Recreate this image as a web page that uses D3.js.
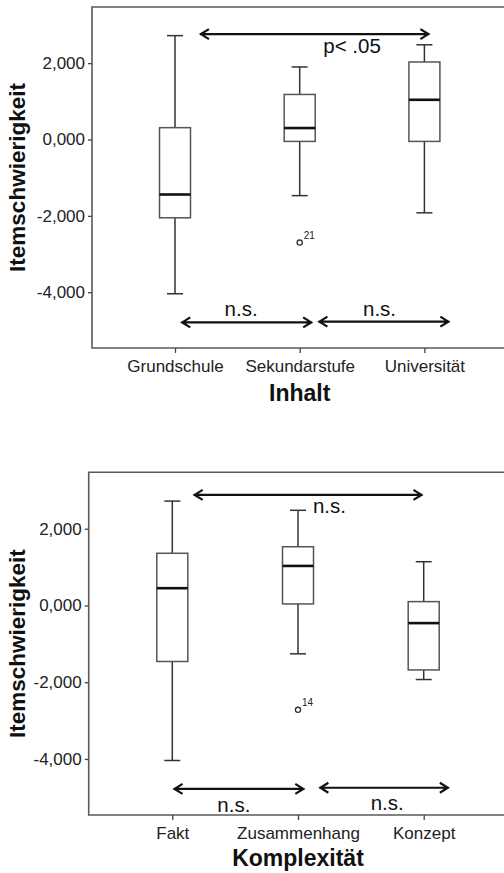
<!DOCTYPE html>
<html>
<head>
<meta charset="utf-8">
<script src="https://cdn.jsdelivr.net/npm/d3@7"></script>
<style>
  body { margin: 0; background: #fff; }
  svg { display: block; font-family: "Liberation Sans", Arial, sans-serif; }
</style>
</head>
<body>
<div id="chart"></div>
<script>
// upper panel: Inhalt
const inhaltCats = ["Grundschule", "Sekundarstufe", "Universität"]
const inhaltMin = [-4.04, -1.47, -1.92]
const inhaltQ1 = [-2.05, -0.05, -0.05]
const inhaltMed = [-1.44, 0.30, 1.04]
const inhaltQ3 = [0.31, 1.18, 2.03]
const inhaltMax = [2.72, 1.90, 2.48]
const inhaltOutliers = [{cat: "Sekundarstufe", v: -2.70, label: "21"}]
// arrows: from/to as category index, y as value
const inhaltArrows = [
  {from: 0.20, to: 2.04, y: 2.76, text: "p< .05", tx: 1.42, ty: 2.27},
  {from: 0.05, to: 1.10, y: -4.79, text: "n.s.", tx: 0.53, ty: -4.63},
  {from: 1.15, to: 2.20, y: -4.77, text: "n.s.", tx: 1.64, ty: -4.63}
]

// lower panel: Komplexität
const komplexCats = ["Fakt", "Zusammenhang", "Konzept"]
const komplexMin = [-4.04, -1.26, -1.93]
const komplexQ1 = [-1.46, 0.04, -1.68]
const komplexMed = [0.45, 1.03, -0.46]
const komplexQ3 = [1.36, 1.53, 0.10]
const komplexMax = [2.72, 2.48, 1.14]
const komplexOutliers = [{cat: "Zusammenhang", v: -2.72, label: "14"}]
const komplexArrows = [
  {from: 0.17, to: 1.99, y: 2.88, text: "n.s.", tx: 1.25, ty: 2.42},
  {from: 0.01, to: 1.05, y: -4.78, text: "n.s.", tx: 0.49, ty: -5.37},
  {from: 1.17, to: 2.20, y: -4.75, text: "n.s.", tx: 1.71, ty: -5.32}
]

const yTicks = [2, 0, -2, -4]
const yDomain = [-5.46, 3.47]
const fmt = v => d3.format(".3f")(v).replace(".", ",").replace("−", "-")

const width = 504, height = 873
const svg = d3.select("#chart").append("svg")
  .attr("width", width).attr("height", height)

function drawPanel(opt) {
  const g = svg.append("g")
  const y = d3.scaleLinear().domain(yDomain).range([opt.bottom, opt.top])
  const x = d3.scalePoint().domain(opt.cats).range([opt.first, opt.first + 2 * opt.step])
  const xi = d3.scaleLinear().domain([0, 2]).range([opt.first, opt.first + 2 * opt.step])

  // frame (right side runs off the picture)
  g.append("path")
    .attr("d", `M${width + 10},${opt.top}H${opt.left}V${opt.bottom}H${width + 10}`)
    .attr("fill", "none").attr("stroke", "#5a5a5a").attr("stroke-width", 1.6)

  // y axis
  const ya = g.append("g").attr("transform", `translate(${opt.left},0)`)
    .call(d3.axisLeft(y).tickValues(yTicks).tickSize(4).tickPadding(3).tickFormat(fmt))
  ya.select(".domain").remove()
  ya.selectAll("line").attr("stroke", "#444").attr("stroke-width", 1.3)
  ya.selectAll("text").attr("font-size", 17).attr("fill", "#222")

  // x axis
  const xa = g.append("g").attr("transform", `translate(0,${opt.bottom})`)
    .call(d3.axisBottom(x).tickSize(5).tickPadding(7))
  xa.select(".domain").remove()
  xa.selectAll("line").attr("stroke", "#444").attr("stroke-width", 1.3)
  xa.selectAll("text").attr("font-size", 17).attr("fill", "#222")

  // boxes
  const rows = opt.cats.map((c, i) => ({
    c: c, lo: opt.min[i], q1: opt.q1[i], med: opt.med[i], q3: opt.q3[i], hi: opt.max[i]
  }))
  const bw = 31, cw = 16
  const b = g.selectAll(".box").data(rows).enter().append("g").attr("class", "box")
  b.append("line")
    .attr("x1", d => x(d.c)).attr("x2", d => x(d.c))
    .attr("y1", d => y(d.hi)).attr("y2", d => y(d.q3))
    .attr("stroke", "#333").attr("stroke-width", 1.5)
  b.append("line")
    .attr("x1", d => x(d.c)).attr("x2", d => x(d.c))
    .attr("y1", d => y(d.q1)).attr("y2", d => y(d.lo))
    .attr("stroke", "#333").attr("stroke-width", 1.5)
  b.selectAll(".cap").data(d => [[d.c, d.hi], [d.c, d.lo]]).enter().append("line")
    .attr("x1", d => x(d[0]) - cw / 2).attr("x2", d => x(d[0]) + cw / 2)
    .attr("y1", d => y(d[1])).attr("y2", d => y(d[1]))
    .attr("stroke", "#333").attr("stroke-width", 1.5)
  b.append("rect")
    .attr("x", d => x(d.c) - bw / 2).attr("width", bw)
    .attr("y", d => y(d.q3)).attr("height", d => y(d.q1) - y(d.q3))
    .attr("fill", "#fff").attr("stroke", "#555").attr("stroke-width", 1.5)
  b.append("line")
    .attr("x1", d => x(d.c) - bw / 2).attr("x2", d => x(d.c) + bw / 2)
    .attr("y1", d => y(d.med)).attr("y2", d => y(d.med))
    .attr("stroke", "#111").attr("stroke-width", 2.6)

  // outliers
  const o = g.selectAll(".out").data(opt.outliers).enter().append("g")
  o.append("circle")
    .attr("cx", d => x(d.cat)).attr("cy", d => y(d.v)).attr("r", 2.6)
    .attr("fill", "#fff").attr("stroke", "#333").attr("stroke-width", 1.3)
  o.append("text")
    .attr("x", d => x(d.cat) + 4).attr("y", d => y(d.v) - 4)
    .attr("font-size", 10).attr("fill", "#222").text(d => d.label)

  // significance arrows
  const a = g.selectAll(".arr").data(opt.arrows).enter().append("g")
  a.append("path")
    .attr("d", d => {
      const x1 = xi(d.from), x2 = xi(d.to), yy = y(d.y)
      return `M${x1},${yy}H${x2}` +
        `M${x1 + 9},${yy - 5}L${x1 + 1},${yy}L${x1 + 9},${yy + 5}` +
        `M${x2 - 9},${yy - 5}L${x2 - 1},${yy}L${x2 - 9},${yy + 5}`
    })
    .attr("fill", "none").attr("stroke", "#111").attr("stroke-width", 2.2)
  a.append("text")
    .attr("x", d => xi(d.tx)).attr("y", d => y(d.ty))
    .attr("text-anchor", "middle").attr("font-size", 20.5).attr("fill", "#111")
    .text(d => d.text)

  // titles
  g.append("text")
    .attr("transform", `translate(${opt.ytx},${(opt.top + opt.bottom) / 2}) rotate(-90)`)
    .attr("text-anchor", "middle").attr("font-size", 22.5).attr("font-weight", "bold")
    .attr("fill", "#111").text("Itemschwierigkeit")
  g.append("text")
    .attr("x", opt.first + opt.step).attr("y", opt.xty)
    .attr("text-anchor", "middle").attr("font-size", 23).attr("font-weight", "bold")
    .attr("fill", "#111").text(opt.xTitle)
}

drawPanel({
  cats: inhaltCats, min: inhaltMin, q1: inhaltQ1, med: inhaltMed, q3: inhaltQ3, max: inhaltMax,
  outliers: inhaltOutliers, arrows: inhaltArrows,
  left: 92, top: 7, bottom: 348, first: 175, step: 124.7,
  ytx: 25, xty: 401, xTitle: "Inhalt"
})

drawPanel({
  cats: komplexCats, min: komplexMin, q1: komplexQ1, med: komplexMed, q3: komplexQ3, max: komplexMax,
  outliers: komplexOutliers, arrows: komplexArrows,
  left: 88.7, top: 472.3, bottom: 815, first: 172.3, step: 125.7,
  ytx: 25, xty: 866, xTitle: "Komplexität"
})
</script>
</body>
</html>
